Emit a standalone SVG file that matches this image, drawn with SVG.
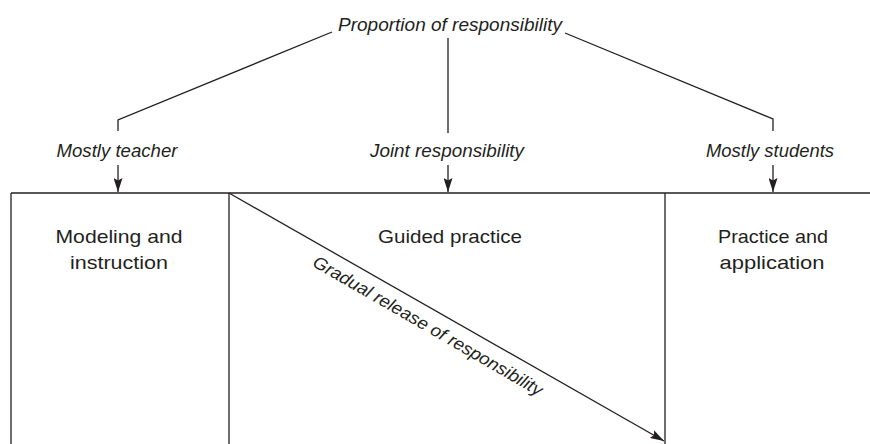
<svg xmlns="http://www.w3.org/2000/svg" width="870" height="444" viewBox="0 0 870 444">
<style>
text{font-family:"Liberation Sans",Arial,sans-serif;fill:#231f20}
.it{font-style:italic;font-size:17.5px}
.bx{font-size:18.5px}
.ln{stroke:#231f20;stroke-width:1.3;fill:none}
</style>
<defs>
<marker id="ah" viewBox="0 0 14 9" refX="14" refY="4.5" markerWidth="14" markerHeight="9" markerUnits="userSpaceOnUse" orient="auto">
<path d="M0,0 L14,4.5 L0,9 L2.5,4.5 z" fill="#231f20"/>
</marker>
</defs>
<rect width="870" height="444" fill="#fff"/>
<g id="title"><text class="it" x="450" y="31" text-anchor="middle" textLength="224" lengthAdjust="spacingAndGlyphs">Proportion of responsibility</text></g>
<g id="connectors">
<path class="ln" d="M332,32 L118,120 L118,131"/>
<path class="ln" d="M448,38 L448,133"/>
<path class="ln" d="M565,33 L773,119 L773,131"/>
<path class="ln" d="M118,165 L118,192" marker-end="url(#ah)"/>
<path class="ln" d="M448,165 L448,192" marker-end="url(#ah)"/>
<path class="ln" d="M773,165 L773,192" marker-end="url(#ah)"/>
<path class="ln" d="M229,193 L664,441" marker-end="url(#ah)"/>
</g>
<g id="frame">
<path class="ln" d="M11,193 L870,193"/>
<path class="ln" d="M11,193 L11,444"/>
<path class="ln" d="M229,193 L229,444"/>
<path class="ln" d="M665,193 L665,444"/>
</g>
<g id="label-teacher"><text class="it" x="117" y="157" text-anchor="middle" textLength="121" lengthAdjust="spacingAndGlyphs">Mostly teacher</text></g>
<g id="label-joint"><text class="it" x="447" y="157" text-anchor="middle" textLength="154" lengthAdjust="spacingAndGlyphs">Joint responsibility</text></g>
<g id="label-students"><text class="it" x="770" y="157" text-anchor="middle" textLength="128" lengthAdjust="spacingAndGlyphs">Mostly students</text></g>
<g id="node-modeling">
<text class="bx" x="119" y="243" text-anchor="middle" textLength="127" lengthAdjust="spacingAndGlyphs">Modeling and</text>
<text class="bx" x="119" y="269" text-anchor="middle" textLength="98" lengthAdjust="spacingAndGlyphs">instruction</text>
</g>
<g id="node-guided">
<text class="bx" x="450" y="243" text-anchor="middle" textLength="144" lengthAdjust="spacingAndGlyphs">Guided practice</text>
</g>
<g id="node-practice">
<text class="bx" x="773" y="243" text-anchor="middle" textLength="110" lengthAdjust="spacingAndGlyphs">Practice and</text>
<text class="bx" x="772" y="269" text-anchor="middle" textLength="105" lengthAdjust="spacingAndGlyphs">application</text>
</g>
<g id="label-gradual">
<text class="it" transform="translate(425,331) rotate(30)" x="0" y="0" text-anchor="middle" textLength="262" lengthAdjust="spacingAndGlyphs">Gradual release of responsibility</text>
</g>
</svg>
